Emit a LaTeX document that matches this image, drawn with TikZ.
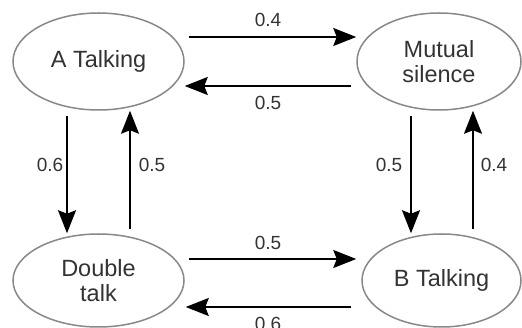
\documentclass[tikz,border=0pt]{standalone}
\usepackage{fontspec}
\setmainfont{Liberation Sans}
\usetikzlibrary{shapes.geometric,arrows.meta}
\definecolor{edgegray}{HTML}{888888}
\definecolor{txtgray}{HTML}{333333}
\begin{document}
\begin{tikzpicture}[x=1pt,y=-1pt,
  state/.style={ellipse,draw=edgegray,line width=1.5pt,fill=white,inner sep=0pt,
    text=txtgray,align=center,font=\fontsize{23.5}{25}\selectfont},
  arr/.style={line width=1.8pt,-{Stealth[length=23pt,width=18pt,inset=3.5pt]}},
  lbl/.style={text=txtgray,font=\fontsize{19}{20}\selectfont,inner sep=0pt}]
\useasboundingbox (0,0) rectangle (522,328);
\clip (0,0) rectangle (522,328);
\node[state,minimum width=171pt,minimum height=97pt] (A) at (98.5,61.5) {A Talking};
\node[state,minimum width=164pt,minimum height=97pt] (M) at (439,61.5) {Mutual\\silence};
\node[state,minimum width=171pt,minimum height=93pt] (D) at (98.5,280.5) {Double\\talk};
\node[state,minimum width=159pt,minimum height=93pt] (B) at (441.5,280.5) {B Talking};
% top pair
\draw[arr] ([xshift=4pt,yshift=24.5pt]A.east) -- ([yshift=24.5pt]M.west);
\draw[arr] ([xshift=-5pt,yshift=-24.5pt]M.west) -- ([yshift=-24.5pt]A.east);
% left pair
\draw[arr] ([xshift=-31.5pt,yshift=-5pt]A.south) -- ([xshift=-31.5pt]D.north);
\draw[arr] ([xshift=31.5pt,yshift=4pt]D.north) -- ([xshift=31.5pt]A.south);
% right pair
\draw[arr] ([xshift=-28pt,yshift=-5pt]M.south) -- ([xshift=-30.5pt]B.north);
\draw[arr] ([xshift=31.5pt,yshift=4pt]B.north) -- ([xshift=34pt]M.south);
% bottom pair
\draw[arr] ([xshift=4pt,yshift=21.5pt]D.east) -- ([xshift=-5pt,yshift=21.5pt]B.west);
\draw[arr] ([xshift=-10pt,yshift=-26.5pt]B.west) -- ([xshift=1pt,yshift=-26.5pt]D.east);
% labels
\node[lbl] (l1) at (268,20) {0.4};
\node[lbl] (l2) at (268,102.5) {0.5};
\node[lbl] (l3) at (50,165) {0.6};
\node[lbl] (l4) at (152,165) {0.5};
\node[lbl] (l5) at (389,165) {0.5};
\node[lbl] (l6) at (494,165) {0.4};
\node[lbl] (l7) at (268,243) {0.5};
\node[lbl] (l8) at (268,323.5) {0.6};
\end{tikzpicture}
\end{document}
